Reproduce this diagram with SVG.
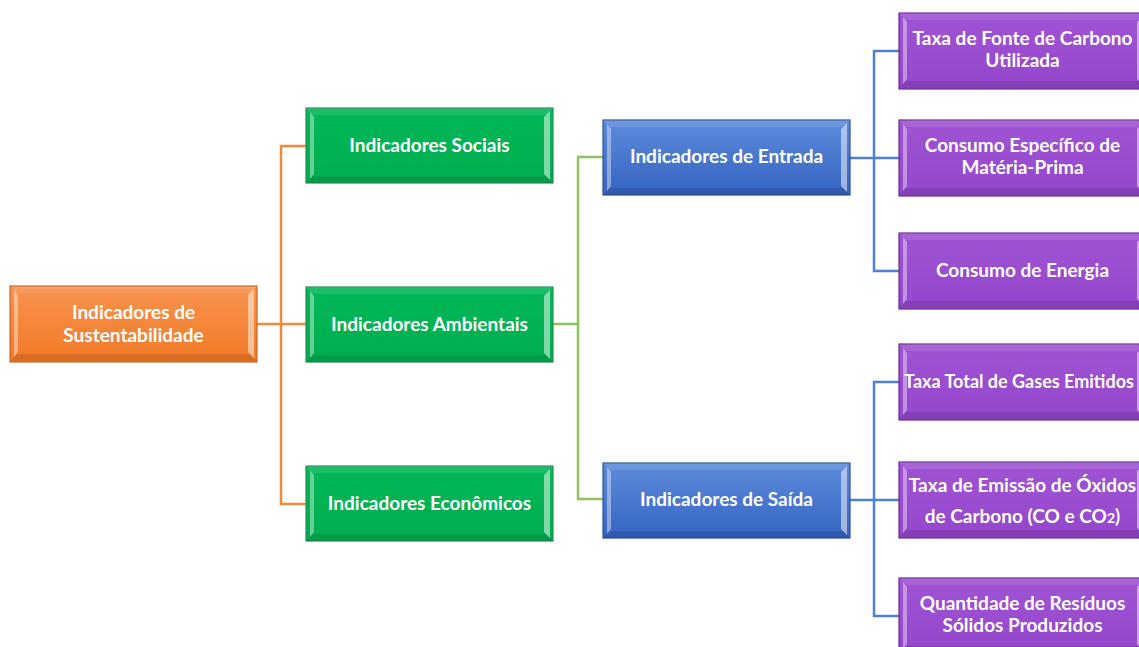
<svg xmlns="http://www.w3.org/2000/svg" xmlns:xlink="http://www.w3.org/1999/xlink" width="1139" height="647" viewBox="0 0 1139 647">
<defs>
<linearGradient id="gOr" x1="0" y1="0" x2="0" y2="1"><stop offset="0" stop-color="#F8934F"/><stop offset="1" stop-color="#F07A26"/></linearGradient>
<linearGradient id="gGr" x1="0" y1="0" x2="0" y2="1"><stop offset="0" stop-color="#02B858"/><stop offset="1" stop-color="#00AD4F"/></linearGradient>
<linearGradient id="gBl" x1="0" y1="0" x2="0" y2="1"><stop offset="0" stop-color="#5D8BDB"/><stop offset="1" stop-color="#3564C2"/></linearGradient>
<linearGradient id="gPu" x1="0" y1="0" x2="0" y2="1"><stop offset="0" stop-color="#A054D4"/><stop offset="1" stop-color="#9446CB"/></linearGradient>
<g id="bevel">
<polygon points="0,0 247,0 240,7 7,7" fill="#ffffff" fill-opacity="0.1"/>
<polygon points="0,75 7,68 240,68 247,75" fill="#000000" fill-opacity="0.1"/>
<polygon points="4,4 8,9 8,66 4,71" fill="#ffffff" fill-opacity="0.4"/>
<polygon points="244,3 238,9 238,66 244,72" fill="#ffffff" fill-opacity="0.5"/>
</g>
<style>
.or{fill:url(#gOr);stroke:#C9662A;stroke-width:1.2}
.gr{fill:url(#gGr);stroke:#2E8B57;stroke-width:1.2}
.bl{fill:url(#gBl);stroke:#2F528F;stroke-width:1.2}
.pu{fill:url(#gPu);stroke:#6A2C92;stroke-width:1.2}
.t{font-family:Lato,"Liberation Sans",sans-serif;font-weight:700;font-size:19px;fill:#ffffff;text-anchor:middle}
.c{fill:none;stroke-width:2.5}
.co{stroke:#F4883E}
.cg{stroke:#8CC65A}
.cb{stroke:#4F7FD6}
</style>
</defs>
<rect width="1139" height="647" fill="#ffffff"/>
<g id="connectors">
<polyline class="c co" points="306,146 281,146 281,504 306,504"/>
<line class="c co" x1="257" y1="324" x2="306" y2="324"/>
<polyline class="c cg" points="603,157 578,157 578,499 603,499"/>
<line class="c cg" x1="553" y1="324" x2="578" y2="324"/>
<polyline class="c cb" points="899,51 874,51 874,271 899,271"/>
<line class="c cb" x1="850" y1="158" x2="899" y2="158"/>
<polyline class="c cb" points="899,382 874,382 874,616 899,616"/>
<line class="c cb" x1="850" y1="500" x2="899" y2="500"/>
</g>
<g id="n-sustentabilidade">
<rect class="or" x="10" y="286" width="247" height="76"/>
<use xlink:href="#bevel" x="10" y="286"/>
<text class="t" x="133.5" y="319">Indicadores de</text>
<text class="t" x="133.5" y="342">Sustentabilidade</text>
</g>
<g id="n-sociais">
<rect class="gr" x="306" y="108" width="247" height="75"/>
<use xlink:href="#bevel" x="306" y="108"/>
<text class="t" x="429.5" y="152">Indicadores Sociais</text>
</g>
<g id="n-ambientais">
<rect class="gr" x="306" y="287" width="247" height="75"/>
<use xlink:href="#bevel" x="306" y="287"/>
<text class="t" x="429.5" y="331">Indicadores Ambientais</text>
</g>
<g id="n-economicos">
<rect class="gr" x="306" y="466" width="247" height="75"/>
<use xlink:href="#bevel" x="306" y="466"/>
<text class="t" x="429.5" y="510">Indicadores Econômicos</text>
</g>
<g id="n-entrada">
<rect class="bl" x="603" y="120" width="247" height="75"/>
<use xlink:href="#bevel" x="603" y="120"/>
<text class="t" x="726.5" y="163">Indicadores de Entrada</text>
</g>
<g id="n-saida">
<rect class="bl" x="603" y="463" width="247" height="75"/>
<use xlink:href="#bevel" x="603" y="463"/>
<text class="t" x="726.5" y="506">Indicadores de Saída</text>
</g>
<g id="n-fonte-carbono">
<rect class="pu" x="899" y="13" width="247" height="76"/>
<use xlink:href="#bevel" x="899" y="13"/>
<text class="t" x="1022.5" y="45">Taxa de Fonte de Carbono</text>
<text class="t" x="1022.5" y="67">Utilizada</text>
</g>
<g id="n-materia-prima">
<rect class="pu" x="899" y="120" width="247" height="76"/>
<use xlink:href="#bevel" x="899" y="120"/>
<text class="t" x="1022.5" y="152">Consumo Específico de</text>
<text class="t" x="1022.5" y="174">Matéria-Prima</text>
</g>
<g id="n-energia">
<rect class="pu" x="899" y="233" width="247" height="76"/>
<use xlink:href="#bevel" x="899" y="233"/>
<text class="t" x="1022.5" y="277">Consumo de Energia</text>
</g>
<g id="n-gases">
<rect class="pu" x="899" y="344" width="247" height="76"/>
<use xlink:href="#bevel" x="899" y="344"/>
<text class="t" x="1019" y="388" font-size="18" style="font-size:18px">Taxa Total de Gases Emitidos</text>
</g>
<g id="n-oxidos">
<rect class="pu" x="899" y="462" width="247" height="76"/>
<use xlink:href="#bevel" x="899" y="462"/>
<text class="t" x="1022.5" y="492">Taxa de Emissão de Óxidos</text>
<text class="t" x="1022.5" y="523">de Carbono (CO e CO<tspan font-size="14">2</tspan>)</text>
</g>
<g id="n-residuos">
<rect class="pu" x="899" y="578" width="247" height="76"/>
<use xlink:href="#bevel" x="899" y="578"/>
<text class="t" x="1022.5" y="610">Quantidade de Resíduos</text>
<text class="t" x="1022.5" y="632">Sólidos Produzidos</text>
</g>
</svg>
